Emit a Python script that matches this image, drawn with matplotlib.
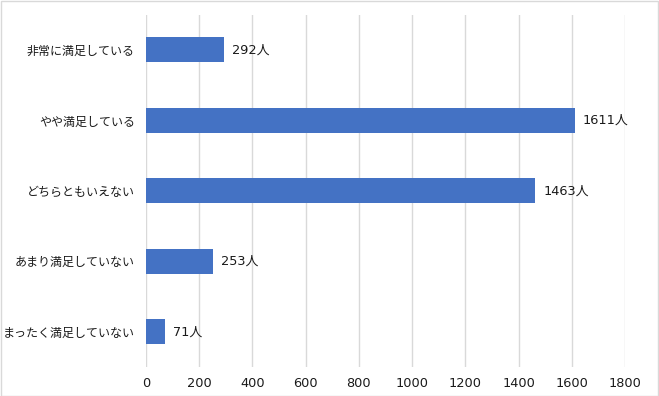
import matplotlib
matplotlib.use("Agg")
import matplotlib.pyplot as plt
from matplotlib.patches import Rectangle

plt.rcParams['font.family'] = ['Noto Sans CJK JP', 'DejaVu Sans']

categories = ["非常に満足している", "やや満足している", "どちらともいえない", "あまり満足していない", "まったく満足していない"]
values = [292, 1611, 1463, 253, 71]
xticks = [0, 200, 400, 600, 800, 1000, 1200, 1400, 1600, 1800]

W, H = 659, 396
fig = plt.figure(figsize=(W / 100, H / 100), dpi=100)
ax = fig.add_axes([146 / W, 1 - 367 / H, (625 - 146) / W, (367 - 14.75) / H])

num_font = ['DejaVu Sans', 'Noto Sans CJK JP']

ypos = list(range(len(categories)))
ax.barh(ypos, values, height=0.355, color="#4472C4", zorder=3)
ax.set_ylim(len(categories) - 0.5, -0.5)
ax.set_xlim(0, 1800)
ax.set_xticks(xticks)
ax.set_xticklabels([str(t) for t in xticks], fontsize=9.3, color="#1a1a1a", family=num_font)
ax.set_yticks(ypos)
ax.set_yticklabels(categories, fontsize=8.65, color="#1a1a1a")
ax.tick_params(axis="both", length=0)
ax.tick_params(axis="x", pad=7)
ax.tick_params(axis="y", pad=8)
ax.grid(axis="x", color="#D9D9D9", linewidth=1, zorder=0)
for s in ax.spines.values():
    s.set_visible(False)

for y, v in zip(ypos, values):
    ax.annotate(f"{v}人", xy=(v, y), xytext=(8, 0), textcoords="offset pixels",
                va="center", ha="left", fontsize=9.3, color="#1a1a1a", family=num_font)

fig.patches.append(Rectangle((0.5 / W, 0.5 / H), 1 - 1.5 / W, 1 - 1.5 / H, transform=fig.transFigure,
                             fill=False, edgecolor="#D9D9D9", linewidth=1))

fig.savefig("out.png", dpi=100)
